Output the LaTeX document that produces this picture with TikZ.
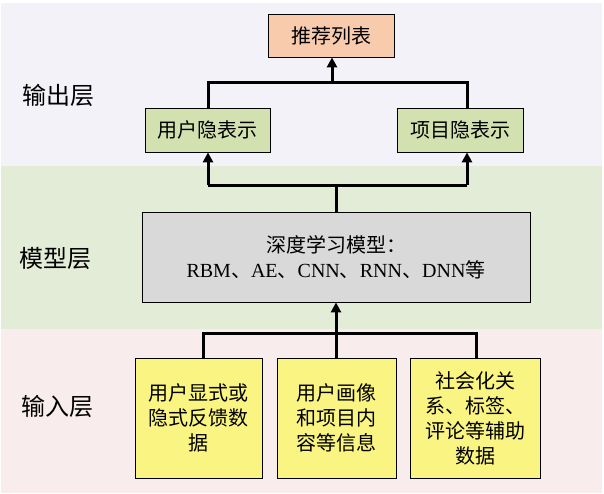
\documentclass[tikz,border=0pt]{standalone}
\usepackage{fontspec}
\setmainfont{Liberation Serif}
\newfontfamily\cjk{Noto Sans CJK SC}
\usetikzlibrary{arrows.meta}
\definecolor{topband}{RGB}{243,242,248}
\definecolor{midband}{RGB}{227,236,214}
\definecolor{lowband}{RGB}{249,236,236}
\definecolor{peach}{RGB}{248,203,173}
\definecolor{olive}{RGB}{211,225,176}
\definecolor{greybox}{RGB}{217,217,217}
\definecolor{yellowbox}{RGB}{250,244,130}
\newcommand{\dun}{{\cjk 、}}
\begin{document}
\begin{tikzpicture}[x=1pt,y=-1pt,
  box/.style={draw=black,line width=0.8pt,inner sep=0pt,align=center,
    font=\cjk\fontsize{20}{25}\selectfont},
  layer/.style={font=\cjk\fontsize{24}{28}\selectfont},
  conn/.style={line width=3pt},
  up/.style={conn,-{Triangle[width=10pt,length=10pt]}}]
\useasboundingbox (0,0) rectangle (604,493);

% background bands
\fill[topband] (1,3) rectangle (602,166);
\fill[midband] (1,166) rectangle (602,329);
\fill[lowband] (1,329) rectangle (602,493);

% layer names
\node[layer] (outl) at (58,95) {输出层};
\node[layer] (modl) at (55,258) {模型层};
\node[layer] (inl) at (57,406) {输入层};

% output layer
\node[box,fill=peach,minimum width=126pt,minimum height=43pt] (rec) at (331,35.5) {推荐列表};
\node[box,fill=olive,minimum width=125pt,minimum height=44pt] (user) at (207.5,130) {用户隐表示};
\node[box,fill=olive,minimum width=126pt,minimum height=44pt] (item) at (460,130) {项目隐表示};

% model layer
\node[box,fill=greybox,minimum width=388pt,minimum height=90pt] (model) at (336,257)
  {深度学习模型：\\{\rmfamily RBM\dun AE\dun CNN\dun RNN\dun DNN}等};

% input layer
\node[box,fill=yellowbox,minimum width=127pt,minimum height=120pt] (in1) at (198.5,418) {用户显式或\\隐式反馈数\\据};
\node[box,fill=yellowbox,minimum width=119pt,minimum height=120pt] (in2) at (336.5,418) {用户画像\\和项目内\\容等信息};
\node[box,fill=yellowbox,minimum width=130pt,minimum height=120pt] (in3) at (475,418) {社会化关\\系、标签、\\评论等辅助\\数据};

% junctions
\coordinate (jtop) at (332,82);
\coordinate (jtl) at (208,82);
\coordinate (jtr) at (467,82);
\coordinate (jml) at (208,185);
\coordinate (jmm) at (336,185);
\coordinate (jmr) at (467,185);
\coordinate (jbm) at (336,333);
\coordinate (jbl) at (203,333);
\coordinate (jbr) at (476,333);

% connectors
\draw[conn] (user.north -| jtl) -- (jtl) -- (jtr) -- (item.north -| jtr);
\draw[up] (jtop) -- (rec.south -| jtop);
\draw[conn] (model.north) -- (jmm);
\draw[conn] (jml) -- (jmr);
\draw[up] (jml) -- (user.south -| jml);
\draw[up] (jmr) -- (item.south -| jmr);
\draw[conn] (in1.north -| jbl) -- (jbl) -- (jbr) -- (in3.north -| jbr);
\draw[conn] (in2.north -| jbm) -- (jbm);
\draw[up] (jbm) -- (model.south);

\end{tikzpicture}
\end{document}
